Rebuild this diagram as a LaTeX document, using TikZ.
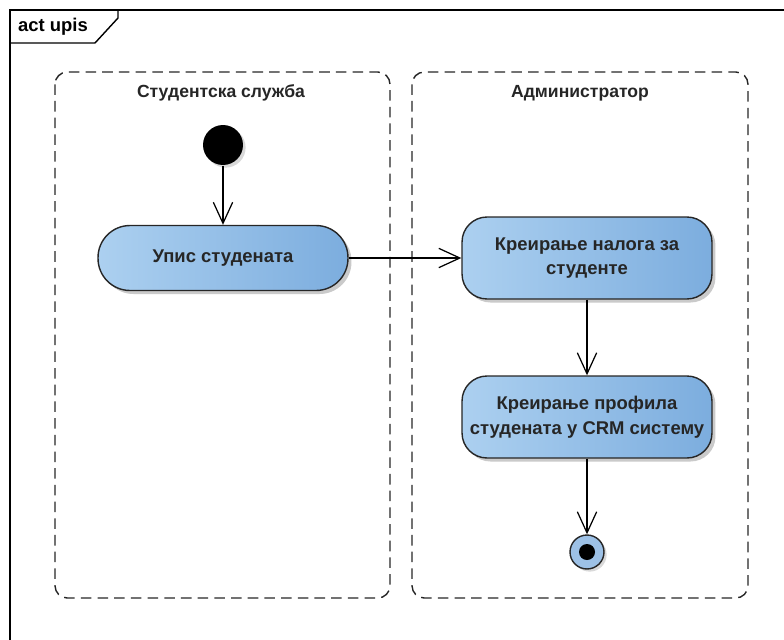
\documentclass[tikz,border=0pt]{standalone}
\usepackage{fontspec}
\setmainfont{Liberation Sans}
\usepackage{xcolor}
\usepackage{tikz}
\usetikzlibrary{arrows.meta, shadows}
\definecolor{actlight}{RGB}{172,208,240}
\definecolor{actdark}{RGB}{124,173,222}
\tikzset{every picture/.style={x=0.02cm, y=-0.02cm, line width=0.8pt},
  lane/.style={draw=black!85, dash pattern=on 6pt off 3.5pt, rounded corners=7pt},
  lanetitle/.style={font=\fontsize{10}{12}\selectfont\bfseries, text=black!85},
  action/.style={draw=black!85, left color=actlight, right color=actdark,
    minimum width=5cm, align=center, text=black!85,
    font=\fontsize{10.5}{14}\selectfont\bfseries,
    drop shadow={shadow xshift=2pt, shadow yshift=-2pt, opacity=0.35, fill=black!60}},
  flow/.style={-{Straight Barb[length=12pt, width=11pt, line width=0.7pt]}}}

\begin{document}
\begin{tikzpicture}
        \useasboundingbox (0,0) rectangle (784,639);

        % frame and its tag
        \draw (10,650) -- (10,10) -- (790,10);
        \draw (10,43) -- (95,43) -- (118,18) -- (118,10);
        \node[font=\fontsize{10.5}{12}\selectfont\bfseries] (tag) at (53,27) {act upis};

        % partitions
        \draw[lane] (55,72) rectangle (390,598);
        \draw[lane] (412,72) rectangle (748,598);
        \node[lanetitle] (sluzba) at (221,93) {Студентска служба};
        \node[lanetitle] (admin) at (580,93) {Администратор};

        % nodes
        \node[circle, fill=black, minimum size=0.8cm, inner sep=0pt,
          drop shadow={shadow xshift=1.5pt, shadow yshift=-1.5pt, opacity=0.3}] (start) at (223,145) {};
        \node[action, rounded corners=0.64cm, minimum height=1.3cm] (upis) at (223,258) {Упис студената};
        \node[action, rounded corners=0.5cm, minimum height=1.64cm] (nalog) at (587,258) {Креирање налога за\\студенте};
        \node[action, rounded corners=0.5cm, minimum height=1.64cm] (profil) at (587,417) {Креирање профила\\студената у CRM систему};
        \node[circle, draw=black!85, fill=actdark!75!white, minimum size=0.68cm, inner sep=0pt,
          drop shadow={shadow xshift=1.5pt, shadow yshift=-1.5pt, opacity=0.3}] (kraj) at (587,552) {};
        \node[circle, fill=black, minimum size=0.32cm, inner sep=0pt] (krajdot) at (kraj.center) {};

        \foreach \from/\to in {start/upis, upis/nalog, nalog/profil, profil/kraj}
        \draw[flow] (\from) -- (\to);
      \end{tikzpicture}
\end{document}
